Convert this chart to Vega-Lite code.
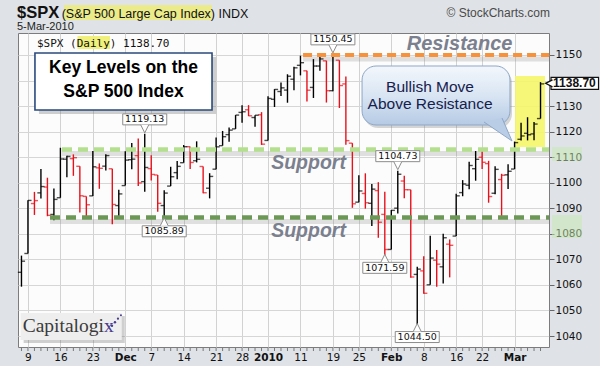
{
"$schema": "https://vega.github.io/schema/vega-lite/v6.json",
"width": 531, "height": 314,
"autosize": {"type": "none"},
"padding": {"left": 18, "top": 33, "right": 51, "bottom": 19},
"background": "#dfe2e6",
"config": {"view": {"fill": "#fcfcfd", "stroke": "#7c7c7c", "strokeWidth": 1}, "font": "Liberation Sans"},
"resolve": {"axis": {"x": "independent", "y": "independent"}},
"datasets": {
"ohlc": [
{"d":"2009-11-06","o":1064.95,"h":1071.48,"l":1059.32,"c":1069.30},
{"d":"2009-11-09","o":1072.31,"h":1093.19,"l":1072.31,"c":1093.08},
{"d":"2009-11-10","o":1091.86,"h":1096.42,"l":1087.40,"c":1093.01},
{"d":"2009-11-11","o":1096.04,"h":1105.37,"l":1093.81,"c":1098.51},
{"d":"2009-11-12","o":1098.31,"h":1101.97,"l":1086.90,"c":1087.24},
{"d":"2009-11-13","o":1087.59,"h":1097.79,"l":1085.33,"c":1093.48},
{"d":"2009-11-16","o":1094.13,"h":1113.69,"l":1094.13,"c":1109.30},
{"d":"2009-11-17","o":1109.22,"h":1110.52,"l":1102.19,"c":1110.32},
{"d":"2009-11-18","o":1109.44,"h":1111.10,"l":1102.70,"c":1109.80},
{"d":"2009-11-19","o":1106.44,"h":1106.44,"l":1088.40,"c":1094.90},
{"d":"2009-11-20","o":1094.66,"h":1094.66,"l":1086.81,"c":1091.38},
{"d":"2009-11-23","o":1094.86,"h":1112.38,"l":1094.86,"c":1106.24},
{"d":"2009-11-24","o":1105.83,"h":1107.56,"l":1097.63,"c":1105.65},
{"d":"2009-11-25","o":1106.49,"h":1111.18,"l":1104.75,"c":1110.63},
{"d":"2009-11-27","o":1105.47,"h":1105.47,"l":1083.74,"c":1091.49},
{"d":"2009-11-30","o":1091.07,"h":1097.24,"l":1086.25,"c":1095.63},
{"d":"2009-12-01","o":1098.89,"h":1112.28,"l":1098.89,"c":1108.86},
{"d":"2009-12-02","o":1109.03,"h":1115.58,"l":1105.29,"c":1109.24},
{"d":"2009-12-03","o":1110.59,"h":1117.28,"l":1098.74,"c":1099.92},
{"d":"2009-12-04","o":1100.43,"h":1119.13,"l":1096.52,"c":1105.98},
{"d":"2009-12-07","o":1105.52,"h":1110.72,"l":1100.83,"c":1103.25},
{"d":"2009-12-08","o":1103.04,"h":1103.04,"l":1088.61,"c":1091.94},
{"d":"2009-12-09","o":1091.07,"h":1097.04,"l":1085.89,"c":1095.95},
{"d":"2009-12-10","o":1098.69,"h":1106.25,"l":1098.69,"c":1102.35},
{"d":"2009-12-11","o":1103.96,"h":1108.50,"l":1101.34,"c":1106.41},
{"d":"2009-12-14","o":1107.84,"h":1114.76,"l":1107.84,"c":1114.11},
{"d":"2009-12-15","o":1114.11,"h":1114.11,"l":1105.35,"c":1107.93},
{"d":"2009-12-16","o":1108.61,"h":1116.21,"l":1107.96,"c":1109.18},
{"d":"2009-12-17","o":1106.36,"h":1106.36,"l":1095.88,"c":1096.08},
{"d":"2009-12-18","o":1097.86,"h":1103.74,"l":1093.88,"c":1102.47},
{"d":"2009-12-21","o":1105.31,"h":1117.68,"l":1105.31,"c":1114.05},
{"d":"2009-12-22","o":1114.51,"h":1120.27,"l":1114.51,"c":1118.02},
{"d":"2009-12-23","o":1118.84,"h":1121.58,"l":1116.00,"c":1120.59},
{"d":"2009-12-24","o":1121.08,"h":1126.48,"l":1121.08,"c":1126.48},
{"d":"2009-12-28","o":1127.53,"h":1130.38,"l":1123.51,"c":1127.78},
{"d":"2009-12-29","o":1128.55,"h":1130.38,"l":1126.08,"c":1126.20},
{"d":"2009-12-30","o":1125.53,"h":1126.42,"l":1121.94,"c":1126.42},
{"d":"2009-12-31","o":1126.60,"h":1127.64,"l":1114.81,"c":1115.10},
{"d":"2010-01-04","o":1116.56,"h":1133.87,"l":1116.56,"c":1132.99},
{"d":"2010-01-05","o":1132.66,"h":1136.63,"l":1129.66,"c":1136.52},
{"d":"2010-01-06","o":1135.71,"h":1139.19,"l":1133.95,"c":1137.14},
{"d":"2010-01-07","o":1136.27,"h":1142.46,"l":1131.32,"c":1141.69},
{"d":"2010-01-08","o":1140.52,"h":1145.39,"l":1136.22,"c":1144.98},
{"d":"2010-01-11","o":1145.96,"h":1149.74,"l":1142.02,"c":1146.98},
{"d":"2010-01-12","o":1143.81,"h":1143.81,"l":1131.77,"c":1136.22},
{"d":"2010-01-13","o":1137.31,"h":1148.40,"l":1133.18,"c":1145.68},
{"d":"2010-01-14","o":1145.68,"h":1150.41,"l":1143.80,"c":1148.46},
{"d":"2010-01-15","o":1147.72,"h":1147.77,"l":1131.39,"c":1136.03},
{"d":"2010-01-19","o":1136.03,"h":1150.45,"l":1135.77,"c":1150.23},
{"d":"2010-01-20","o":1147.95,"h":1147.95,"l":1129.25,"c":1138.04},
{"d":"2010-01-21","o":1138.68,"h":1141.58,"l":1114.84,"c":1116.48},
{"d":"2010-01-22","o":1115.49,"h":1115.49,"l":1090.18,"c":1091.76},
{"d":"2010-01-25","o":1092.40,"h":1102.97,"l":1092.40,"c":1096.78},
{"d":"2010-01-26","o":1095.80,"h":1103.69,"l":1089.86,"c":1092.17},
{"d":"2010-01-27","o":1091.94,"h":1099.51,"l":1083.11,"c":1097.50},
{"d":"2010-01-28","o":1096.93,"h":1100.22,"l":1078.46,"c":1084.53},
{"d":"2010-01-29","o":1087.61,"h":1096.45,"l":1071.59,"c":1073.87},
{"d":"2010-02-01","o":1073.89,"h":1089.38,"l":1073.89,"c":1089.19},
{"d":"2010-02-02","o":1090.05,"h":1104.73,"l":1087.96,"c":1103.32},
{"d":"2010-02-03","o":1100.67,"h":1102.72,"l":1093.97,"c":1097.28},
{"d":"2010-02-04","o":1097.25,"h":1097.25,"l":1062.78,"c":1063.11},
{"d":"2010-02-05","o":1064.12,"h":1067.13,"l":1044.50,"c":1066.19},
{"d":"2010-02-08","o":1065.51,"h":1071.20,"l":1056.51,"c":1056.74},
{"d":"2010-02-09","o":1060.06,"h":1079.28,"l":1060.06,"c":1070.52},
{"d":"2010-02-10","o":1069.68,"h":1073.67,"l":1059.34,"c":1068.13},
{"d":"2010-02-11","o":1067.10,"h":1080.04,"l":1060.59,"c":1078.47},
{"d":"2010-02-12","o":1075.95,"h":1077.81,"l":1062.97,"c":1075.51},
{"d":"2010-02-16","o":1079.13,"h":1095.67,"l":1079.13,"c":1094.87},
{"d":"2010-02-17","o":1096.14,"h":1101.03,"l":1094.72,"c":1099.51},
{"d":"2010-02-18","o":1099.03,"h":1108.24,"l":1097.48,"c":1106.75},
{"d":"2010-02-19","o":1105.49,"h":1112.42,"l":1100.80,"c":1109.17},
{"d":"2010-02-22","o":1110.00,"h":1112.29,"l":1105.38,"c":1108.01},
{"d":"2010-02-23","o":1107.49,"h":1108.58,"l":1092.18,"c":1094.60},
{"d":"2010-02-24","o":1095.89,"h":1106.42,"l":1095.50,"c":1105.24},
{"d":"2010-02-25","o":1101.24,"h":1103.50,"l":1086.02,"c":1102.94},
{"d":"2010-02-26","o":1103.10,"h":1107.24,"l":1097.56,"c":1104.49},
{"d":"2010-03-01","o":1105.36,"h":1116.11,"l":1105.36,"c":1115.71},
{"d":"2010-03-02","o":1117.01,"h":1123.46,"l":1116.51,"c":1118.31},
{"d":"2010-03-03","o":1119.36,"h":1125.64,"l":1116.58,"c":1118.79},
{"d":"2010-03-04","o":1119.12,"h":1123.73,"l":1116.66,"c":1122.97},
{"d":"2010-03-05","o":1125.12,"h":1139.38,"l":1125.12,"c":1138.70}
],
"hi": [{"d":"2009-12-04","p":1119.13},{"d":"2010-01-19","p":1150.45},{"d":"2010-02-02","p":1104.73}],
"lo": [{"d":"2009-12-09","p":1085.89},{"d":"2010-01-29","p":1071.59},{"d":"2010-02-05","p":1044.50}]
},
"layer": [
{"data":{"name":"ohlc"},
 "resolve": {"axis": {"x": "independent", "y": "independent"}},
 "layer":[
  {"mark":{"type":"rule","strokeWidth":1.4,"opacity":0},
   "encoding":{
    "x":{"field":"d","type":"ordinal","scale":{"type":"point","padding":0.92,"align":0.29},
     "axis":{"title":null,"labelAngle":0,"labelAlign":"center","labelOverlap":false,"labelBound":false,"domain":false,"ticks":false,
      "values":["2009-11-09","2009-11-16","2009-11-23","2009-12-01","2009-12-07","2009-12-14","2009-12-21","2009-12-28","2010-01-04","2010-01-11","2010-01-19","2010-01-25","2010-02-01","2010-02-08","2010-02-16","2010-02-22","2010-03-01"],
      "labelExpr":"datum.value=='2009-12-01'?'Dec':datum.value=='2010-01-04'?'2010':datum.value=='2010-02-01'?'Feb':datum.value=='2010-03-01'?'Mar':''+toNumber(slice(datum.value,8))",
      "labelFont":"DejaVu Sans","labelFontSize":10.5,"labelColor":"#111111","labelPadding":5,
      "labelFontWeight":{"condition":{"test":"indexof(['2009-12-01','2010-01-04','2010-02-01','2010-03-01'],datum.value)>=0","value":"bold"},"value":"normal"},
      "grid":true,"gridColor":"#d2d2d2"}},
    "y":{"field":"l","type":"quantitative","scale":{"domain":[1035.71,1158.61],"nice":false,"zero":false},
     "axis":{"title":null,"orient":"right","values":[1040,1050,1060,1070,1080,1090,1100,1110,1120,1130,1140,1150],"format":"d","domain":false,"labelOverlap":false,
      "labelExpr":"datum.value == 1140 ? '' : datum.label",
      "labelFont":"DejaVu Sans","labelFontSize":10.5,"labelColor":"#111111","labelPadding":1,"tickSize":5,"tickColor":"#666666","grid":true,"gridColor":"#d6d6d6"}},
    "y2":{"field":"h"}}}
 ]},
{"data":{"values":[{}]},"mark":{"type":"rect","color":"#f5f56a","opacity":0.9,"xOffset":0.5,"x2Offset":4.5},
 "encoding":{"x":{"datum":"2010-03-01","type":"ordinal","axis":null},"x2":{"datum":"2010-03-05"},"y":{"datum":1141.78,"type":"quantitative","axis":null},"y2":{"datum":1113.99}}},
{"data":{"values":[{}]},"mark":{"type":"rule","color":"#7a7a7a","strokeWidth":5,"opacity":0.22,"yOffset":4,"xOffset":2.6,"x2Offset":8.5},
 "encoding":{"x":{"datum":"2010-01-11","type":"ordinal","axis":null},"x2":{"datum":"2010-03-05"},"y":{"datum":1150,"type":"quantitative","axis":null}}},
{"data":{"values":[{}]},"mark":{"type":"rule","color":"#7a7a7a","strokeWidth":5,"opacity":0.22,"yOffset":4,"xOffset":1.6,"x2Offset":8.5},
 "encoding":{"x":{"datum":"2009-11-16","type":"ordinal","axis":null},"x2":{"datum":"2010-03-05"},"y":{"datum":1113,"type":"quantitative","axis":null}}},
{"data":{"values":[{}]},"mark":{"type":"rule","color":"#7a7a7a","strokeWidth":5,"opacity":0.22,"yOffset":4,"xOffset":2.6,"x2Offset":8.5},
 "encoding":{"x":{"datum":"2009-11-12","type":"ordinal","axis":null},"x2":{"datum":"2010-03-05"},"y":{"datum":1086.4,"type":"quantitative","axis":null}}},
{"data":{"name":"ohlc"},
 "resolve": {"axis": {"x": "independent", "y": "independent"}},
 "transform":[{"window":[{"op":"lag","field":"c","as":"pc"}],"sort":[{"field":"d"}]}],
 "encoding":{
  "color":{"condition":{"test":"datum.pc != null && datum.c < datum.pc","value":"#e8101a"},"value":"#000000"}
 },
 "layer":[
  {"mark":{"type":"rule","strokeWidth":1.4},
   "encoding":{"x":{"field":"d","type":"ordinal","axis":null},"y":{"field":"l","type":"quantitative","axis":null},"y2":{"field":"h"}}},
  {"mark":{"type":"tick","orient":"horizontal","size":3.6,"thickness":1.4,"xOffset":-1.8},
   "encoding":{"x":{"field":"d","type":"ordinal","axis":null},"y":{"field":"o","type":"quantitative","axis":null}}},
  {"mark":{"type":"tick","orient":"horizontal","size":3.6,"thickness":1.4,"xOffset":1.8},
   "encoding":{"x":{"field":"d","type":"ordinal","axis":null},"y":{"field":"c","type":"quantitative","axis":null}}},
  {"mark":{"type":"rule","strokeWidth":1,"yOffset":1,"y2Offset":4},
   "encoding":{"x":{"field":"d","type":"ordinal","axis":null},"color":{"value":"#777777"},"y":{"datum":1035.71,"type":"quantitative","axis":null},"y2":{"datum":1035.71}}}
 ]},
{"data":{"values":[{}]},"mark":{"type":"rule","color":"#f7923a","strokeWidth":4,"strokeDash":[9,5],"xOffset":2.6,"x2Offset":8.5},
 "encoding":{"x":{"datum":"2010-01-11","type":"ordinal","axis":null},"x2":{"datum":"2010-03-05"},"y":{"datum":1150,"type":"quantitative","axis":null}}},
{"data":{"values":[{}]},"mark":{"type":"rule","color":"#b3df8e","strokeWidth":4.5,"strokeDash":[10,6],"xOffset":1.6,"x2Offset":8.5},
 "encoding":{"x":{"datum":"2009-11-16","type":"ordinal","axis":null},"x2":{"datum":"2010-03-05"},"y":{"datum":1113,"type":"quantitative","axis":null}}},
{"data":{"values":[{}]},"mark":{"type":"rule","color":"#6c9856","strokeWidth":4.5,"strokeDash":[10,6],"xOffset":2.6,"x2Offset":8.5},
 "encoding":{"x":{"datum":"2009-11-12","type":"ordinal","axis":null},"x2":{"datum":"2010-03-05"},"y":{"datum":1086.4,"type":"quantitative","axis":null}}},
{"data":{"values":[{}]},"mark":{"type":"rect","color":"#777777","opacity":0.35,"xOffset":11,"x2Offset":6.4,"yOffset":4,"y2Offset":4},
 "encoding":{"x":{"datum":"2009-11-09","type":"ordinal","axis":null},"x2":{"datum":"2009-12-18"},"y":{"datum":1150.78,"type":"quantitative","axis":null},"y2":{"datum":1128.47}}},
{"data":{"values":[{}]},"mark":{"type":"rect","fill":"#ffffff","stroke":"#2a4a7c","strokeWidth":1.6,"xOffset":7,"x2Offset":2.4},
 "encoding":{"x":{"datum":"2009-11-09","type":"ordinal","axis":null},"x2":{"datum":"2009-12-18"},"y":{"datum":1150.78,"type":"quantitative","axis":null},"y2":{"datum":1128.47}}},
{"data":{"values":[{}]},"mark":{"type":"text","text":["Key Levels on the","S&P 500 Index"],"font":"Liberation Sans","fontWeight":"bold","fontSize":17.5,"lineHeight":23.4,"color":"#000000","align":"center","baseline":"alphabetic","dx":4.7},
 "encoding":{"x":{"datum":"2009-11-30","type":"ordinal","axis":null},"y":{"datum":1142.84,"type":"quantitative","axis":null}}},
{"data":{"values":[{}]},"mark":{"type":"rect","color":"#777777","opacity":0.3,"cornerRadius":14,"xOffset":5.2,"x2Offset":3.9,"yOffset":3,"y2Offset":3},
 "encoding":{"x":{"datum":"2010-01-25","type":"ordinal","axis":null},"x2":{"datum":"2010-02-26"},"y":{"datum":1145.69,"type":"quantitative","axis":null},"y2":{"datum":1122.6}}},
{"data":{"values":[{}]},"mark":{"type":"rect","cornerRadius":14,"stroke":"#8da7c7","strokeWidth":1,"xOffset":3.2,"x2Offset":1.9,
  "fill":{"gradient":"linear","x1":0,"y1":0,"x2":0,"y2":1,"stops":[{"offset":0,"color":"#f3f7fc"},{"offset":0.5,"color":"#d9e5f3"},{"offset":1,"color":"#b5cae4"}]}},
 "encoding":{"x":{"datum":"2010-01-25","type":"ordinal","axis":null},"x2":{"datum":"2010-02-26"},"y":{"datum":1145.69,"type":"quantitative","axis":null},"y2":{"datum":1122.6}}},
{"data":{"values":[{}]},"mark":{"type":"point","shape":"M-0.933,-0.533L0.933,0.733L0.267,-0.8","size":900,"filled":true,"fill":"#b9cde6","stroke":"#8da7c7","strokeWidth":1,"opacity":1,"xOffset":2.9},
 "encoding":{"x":{"datum":"2010-02-24","type":"ordinal","axis":null},"y":{"datum":1120.65,"type":"quantitative","axis":null}}},
{"data":{"values":[{}]},"mark":{"type":"text","text":["Bullish Move","Above Resistance"],"font":"Liberation Sans","fontSize":15.5,"lineHeight":17.5,"color":"#16214d","align":"center","baseline":"alphabetic","dx":6.3},
 "encoding":{"x":{"datum":"2010-02-08","type":"ordinal","axis":null},"y":{"datum":1135.64,"type":"quantitative","axis":null}}},
{"data":{"name":"hi"},
 "resolve": {"axis": {"x": "independent", "y": "independent"}},
 "layer":[
  {"mark":{"type":"rect","fill":"#ffffff","stroke":"#8c8c8c","strokeWidth":1,"xOffset":-22,"x2Offset":22,"yOffset":-20,"y2Offset":-9},
   "encoding":{"x":{"field":"d","type":"ordinal","axis":null},"y":{"field":"p","type":"quantitative","axis":null},"x2":{"field":"d"},"y2":{"field":"p"}}},
  {"mark":{"type":"point","shape":"M-1,-1L0,1L1,-1","size":64,"filled":true,"fill":"#ffffff","stroke":"#8c8c8c","strokeWidth":1,"opacity":1,"yOffset":-5},
   "encoding":{"x":{"field":"d","type":"ordinal","axis":null},"y":{"field":"p","type":"quantitative","axis":null}}},
  {"mark":{"type":"text","font":"DejaVu Sans","fontSize":9.5,"color":"#111111","align":"center","baseline":"middle","dy":-14.5},
   "encoding":{"x":{"field":"d","type":"ordinal","axis":null},"y":{"field":"p","type":"quantitative","axis":null},"text":{"field":"p","type":"quantitative","format":".2f"}}}
 ]},
{"data":{"name":"lo"},
 "resolve": {"axis": {"x": "independent", "y": "independent"}},
 "layer":[
  {"mark":{"type":"rect","fill":"#ffffff","stroke":"#8c8c8c","strokeWidth":1,"xOffset":-22,"x2Offset":22,"yOffset":7,"y2Offset":18},
   "encoding":{"x":{"field":"d","type":"ordinal","axis":null},"y":{"field":"p","type":"quantitative","axis":null},"x2":{"field":"d"},"y2":{"field":"p"}}},
  {"mark":{"type":"point","shape":"M-1,1L0,-1L1,1","size":64,"filled":true,"fill":"#ffffff","stroke":"#8c8c8c","strokeWidth":1,"opacity":1,"yOffset":3},
   "encoding":{"x":{"field":"d","type":"ordinal","axis":null},"y":{"field":"p","type":"quantitative","axis":null}}},
  {"mark":{"type":"text","font":"DejaVu Sans","fontSize":9.5,"color":"#111111","align":"center","baseline":"middle","dy":12.5},
   "encoding":{"x":{"field":"d","type":"ordinal","axis":null},"y":{"field":"p","type":"quantitative","axis":null},"text":{"field":"p","type":"quantitative","format":".2f"}}}
 ]},
{"data":{"values":[{}]},"mark":{"type":"text","text":"Resistance","font":"Liberation Sans","fontWeight":"bold","fontStyle":"italic","fontSize":20,"color":"#7b808e","align":"center","baseline":"alphabetic","dx":3.4},
 "encoding":{"x":{"datum":"2010-02-16","type":"ordinal","axis":null},"y":{"datum":1151.96,"type":"quantitative","axis":null}}},
{"data":{"values":[{}]},"mark":{"type":"text","text":"Support","font":"Liberation Sans","fontWeight":"bold","fontStyle":"italic","fontSize":19.5,"color":"#7b808e","align":"center","baseline":"alphabetic","dx":1.6},
 "encoding":{"x":{"datum":"2010-01-12","type":"ordinal","axis":null},"y":{"datum":1105.38,"type":"quantitative","axis":null}}},
{"data":{"values":[{}]},"mark":{"type":"text","text":"Support","font":"Liberation Sans","fontWeight":"bold","fontStyle":"italic","fontSize":19.5,"color":"#7b808e","align":"center","baseline":"alphabetic","dx":1.6},
 "encoding":{"x":{"datum":"2010-01-12","type":"ordinal","axis":null},"y":{"datum":1078.77,"type":"quantitative","axis":null}}},
{"data":{"values":[{}]},"mark":{"type":"rect","color":"#666666","opacity":0.3,"xOffset":2.2,"x2Offset":38.4,"yOffset":3,"y2Offset":3},
 "encoding":{"x":{"datum":"2009-11-06","type":"ordinal","axis":null},"x2":{"datum":"2009-11-20"},"y":{"datum":1049.02,"type":"quantitative","axis":null},"y2":{"datum":1038.45}}},
{"data":{"values":[{}]},"mark":{"type":"rect","color":"#eeeeee","xOffset":-0.8,"x2Offset":35.4},
 "encoding":{"x":{"datum":"2009-11-06","type":"ordinal","axis":null},"x2":{"datum":"2009-11-20"},"y":{"datum":1049.02,"type":"quantitative","axis":null},"y2":{"datum":1038.45}}},
{"data":{"values":[{}]},"mark":{"type":"text","text":"Capitalogi","font":"Liberation Serif","fontSize":19.5,"color":"#3b3b3b","align":"left","baseline":"alphabetic","dx":1.2},
 "encoding":{"x":{"datum":"2009-11-06","type":"ordinal","axis":null},"y":{"datum":1041.7,"type":"quantitative","axis":null}}},
{"data":{"values":[{}]},"mark":{"type":"text","text":"x","font":"Liberation Serif","fontSize":19.5,"color":"#4b3b8f","align":"left","baseline":"alphabetic","dx":82.5},
 "encoding":{"x":{"datum":"2009-11-06","type":"ordinal","axis":null},"y":{"datum":1041.7,"type":"quantitative","axis":null}}},
{"data":{"values":[{}]},"mark":{"type":"point","shape":"circle","filled":true,"color":"#4b3b8f","opacity":1,"size":6,"xOffset":90.5,"yOffset":-6},
 "encoding":{"x":{"datum":"2009-11-06","type":"ordinal","axis":null},"y":{"datum":1041.7,"type":"quantitative","axis":null}}},
{"data":{"values":[{}]},"mark":{"type":"point","shape":"circle","filled":true,"color":"#4b3b8f","opacity":1,"size":6,"xOffset":93.5,"yOffset":-9.5},
 "encoding":{"x":{"datum":"2009-11-06","type":"ordinal","axis":null},"y":{"datum":1041.7,"type":"quantitative","axis":null}}},
{"data":{"values":[{}]},"mark":{"type":"point","shape":"circle","filled":true,"color":"#4b3b8f","opacity":1,"size":5,"xOffset":96.5,"yOffset":-13},
 "encoding":{"x":{"datum":"2009-11-06","type":"ordinal","axis":null},"y":{"datum":1041.7,"type":"quantitative","axis":null}}},
{"data":{"values":[{}]},"mark":{"type":"point","shape":"circle","filled":true,"color":"#4b3b8f","opacity":1,"size":4,"xOffset":99.5,"yOffset":-16.5},
 "encoding":{"x":{"datum":"2009-11-06","type":"ordinal","axis":null},"y":{"datum":1041.7,"type":"quantitative","axis":null}}},
{"data":{"values":[{}]},"mark":{"type":"text","text":"$SPX","font":"Liberation Sans","fontWeight":"bold","fontSize":16.5,"color":"#111111","align":"left","baseline":"alphabetic","dx":-4.5},
 "encoding":{"x":{"datum":"2009-11-06","type":"ordinal","axis":null},"y":{"datum":1164.5,"type":"quantitative","axis":null}}},
{"data":{"values":[{}]},"mark":{"type":"text","text":"5-Mar-2010","font":"Liberation Sans","fontSize":11,"color":"#222222","align":"left","baseline":"alphabetic","dx":-4.5},
 "encoding":{"x":{"datum":"2009-11-06","type":"ordinal","axis":null},"y":{"datum":1159.59,"type":"quantitative","axis":null}}},
{"data":{"values":[{}]},"mark":{"type":"rect","color":"#ebeb8a","xOffset":42.5,"x2Offset":190.5,"yOffset":-13,"y2Offset":2},
 "encoding":{"x":{"datum":"2009-11-06","type":"ordinal","axis":null},"x2":{"datum":"2009-11-06"},"y":{"datum":1164.5,"type":"quantitative","axis":null},"y2":{"datum":1164.5}}},
{"data":{"values":[{}]},"mark":{"type":"text","text":"(S&P 500 Large Cap Index) INDX","font":"Liberation Sans","fontSize":12.5,"color":"#111111","align":"left","baseline":"alphabetic","dx":40.2},
 "encoding":{"x":{"datum":"2009-11-06","type":"ordinal","axis":null},"y":{"datum":1164.5,"type":"quantitative","axis":null}}},
{"data":{"values":[{}]},"mark":{"type":"text","text":"© StockCharts.com","font":"Liberation Sans","fontSize":12,"color":"#4a4a4a","align":"right","baseline":"alphabetic","dx":9.5},
 "encoding":{"x":{"datum":"2010-03-05","type":"ordinal","axis":null},"y":{"datum":1164.87,"type":"quantitative","axis":null}}},
{"data":{"values":[{}]},"mark":{"type":"rect","color":"#f0f07a","xOffset":56,"x2Offset":88.5,"yOffset":-11,"y2Offset":2},
 "encoding":{"x":{"datum":"2009-11-06","type":"ordinal","axis":null},"x2":{"datum":"2009-11-06"},"y":{"datum":1153.13,"type":"quantitative","axis":null},"y2":{"datum":1153.13}}},
{"data":{"values":[{}]},"mark":{"type":"text","text":"$SPX (Daily) 1138.70","font":"DejaVu Sans Mono","fontSize":11,"color":"#111111","align":"left","baseline":"alphabetic","dx":15.5},
 "encoding":{"x":{"datum":"2009-11-06","type":"ordinal","axis":null},"y":{"datum":1153.13,"type":"quantitative","axis":null}}},
{"data":{"values":[{}]},"mark":{"type":"rect","color":"#c5eab0","opacity":0.5,"xOffset":11.5,"x2Offset":41.5},
 "encoding":{"x":{"datum":"2010-03-05","type":"ordinal","axis":null},"x2":{"datum":"2010-03-05"},"y":{"datum":1113.99,"type":"quantitative","axis":null},"y2":{"datum":1108.51}}},
{"data":{"values":[{}]},"mark":{"type":"rect","color":"#c5eab0","opacity":0.5,"xOffset":11.5,"x2Offset":41.5},
 "encoding":{"x":{"datum":"2010-03-05","type":"ordinal","axis":null},"x2":{"datum":"2010-03-05"},"y":{"datum":1087.38,"type":"quantitative","axis":null},"y2":{"datum":1078.38}}},
{"data":{"name":"ohlc"},"transform":[{"filter":"datum.d == '2010-03-05'"}],
 "resolve": {"axis": {"x": "independent", "y": "independent"}},
 "layer":[
  {"mark":{"type":"rect","fill":"#ffffff","stroke":"#111111","strokeWidth":1.2,"xOffset":10.5,"x2Offset":58,"yOffset":-6.5,"y2Offset":5.5},
   "encoding":{"x":{"field":"d","type":"ordinal","axis":null},"y":{"field":"c","type":"quantitative","axis":null},"x2":{"field":"d"},"y2":{"field":"c"}}},
  {"mark":{"type":"point","shape":"M1,-1L-1,0L1,1","size":49,"filled":true,"fill":"#ffffff","stroke":"#111111","strokeWidth":1.2,"opacity":1,"xOffset":8.5,"yOffset":-0.5},
   "encoding":{"x":{"field":"d","type":"ordinal","axis":null},"y":{"field":"c","type":"quantitative","axis":null}}},
  {"mark":{"type":"text","font":"Liberation Sans","fontWeight":"bold","fontSize":12,"color":"#111111","align":"left","baseline":"middle","dx":12.5,"dy":-0.5},
   "encoding":{"x":{"field":"d","type":"ordinal","axis":null},"y":{"field":"c","type":"quantitative","axis":null},"text":{"field":"c","type":"quantitative","format":".2f"}}}
 ]}
]
}
